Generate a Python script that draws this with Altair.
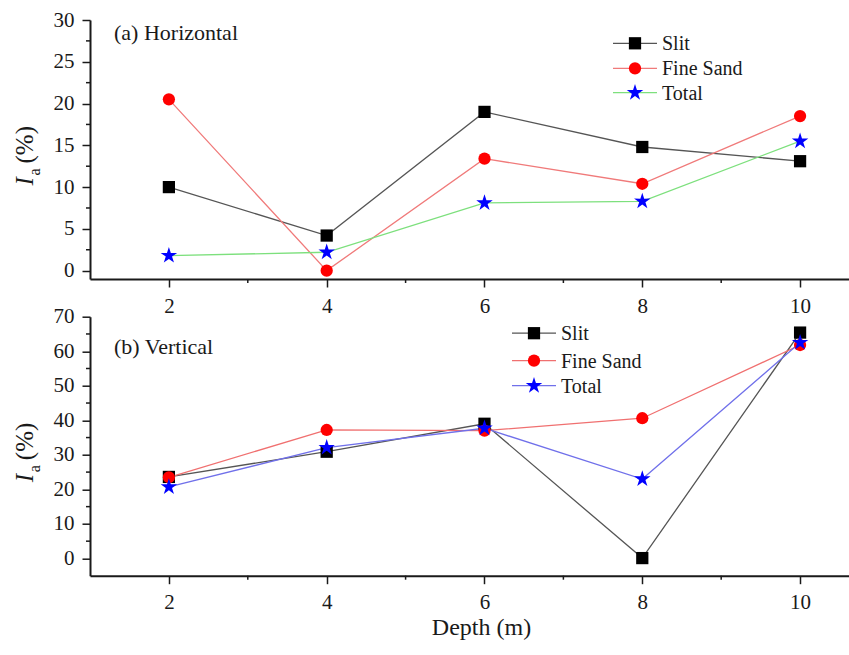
import altair as alt
import pandas as pd

depth = [2, 4, 6, 8, 10]
series = ["Slit", "Fine Sand", "Total"]

h_slit = [10.0, 4.2, 19.0, 14.8, 13.1]
h_sand = [20.5, 0.0, 13.4, 10.4, 18.5]
h_total = [1.8, 2.2, 8.1, 8.3, 15.5]

v_slit = [23.6, 30.9, 39.0, 0.1, 65.4]
v_sand = [23.5, 37.2, 37.0, 40.6, 61.8]
v_total = [20.7, 32.1, 37.7, 23.0, 62.5]

x_major = [2, 4, 6, 8, 10]
x_minor = [3, 5, 7, 9]
h_major = [0, 5, 10, 15, 20, 25, 30]
h_minor = [2.5, 7.5, 12.5, 17.5, 22.5, 27.5]
v_major = [0, 10, 20, 30, 40, 50, 60, 70]
v_minor = [5, 15, 25, 35, 45, 55, 65]

STAR = ("M0,-1L0.223,-0.307L0.951,-0.309L0.361,0.117L0.588,0.809L0,0.38"
        "L-0.588,0.809L-0.361,0.117L-0.951,-0.309L-0.223,-0.307Z")

W, H = 759, 259
FONT = "'Liberation Serif', 'Times New Roman', serif"
INK = "#1a1a1a"
marker_colors = ["#000000", "#ff0000", "#0000ff"]
marker_shapes = ["square", "circle", STAR]
marker_sizes = [150, 150, 300]


def long_df(vals):
    rows = []
    for s, v in zip(series, vals):
        for d, y in zip(depth, v):
            rows.append({"Depth": d, "Value": y, "Series": s})
    return pd.DataFrame(rows)


def panel(vals, line_colors, ydom, ymaj, ymin, label, leg_x, leg_rows, xtitle):
    df = long_df(vals)
    xscale = alt.Scale(domain=[1, 10.62], nice=False, zero=False)
    yscale = alt.Scale(domain=ydom, nice=False, zero=False)
    if xtitle:
        xaxis = alt.Axis(values=x_major, format="d", title=xtitle,
                         titleX=391, titleY=59, titleBaseline="alphabetic",
                         titleFont=FONT, titleFontSize=24, titleFontWeight="normal",
                         titleColor=INK)
    else:
        xaxis = alt.Axis(values=x_major, format="d", title=None)
    yaxis = alt.Axis(values=ymaj, format="d", title=None)

    X = alt.X("Depth:Q", scale=xscale, axis=xaxis)
    Y = alt.Y("Value:Q", scale=yscale, axis=yaxis)

    lines = alt.Chart(df).mark_line(strokeWidth=1.3).encode(
        x=X, y=Y,
        stroke=alt.Stroke("Series:N", scale=alt.Scale(domain=series, range=line_colors), legend=None),
        order=alt.Order("Depth:Q"),
    )
    pt_layers = []
    for i, s in enumerate(series):
        pt_layers.append(alt.Chart(df).transform_filter(alt.datum.Series == s).mark_point(
            filled=True, opacity=1, strokeWidth=0, shape=marker_shapes[i],
            size=marker_sizes[i], color=marker_colors[i]).encode(x=X, y=Y))

    xmin_df = pd.DataFrame({"Depth": x_minor})
    xminor = alt.Chart(xmin_df).mark_rule(color=INK, strokeWidth=1.5).encode(
        x=X, y=alt.value(H), y2=alt.value(H + 4))
    ymin_df = pd.DataFrame({"Value": ymin})
    yminor = alt.Chart(ymin_df).mark_rule(color=INK, strokeWidth=1.5).encode(
        y=Y, x=alt.value(0), x2=alt.value(-4))

    lab = alt.Chart(pd.DataFrame({"t": [label]})).mark_text(
        font=FONT, fontSize=22, align="left", baseline="middle", color=INK
    ).encode(x=alt.value(24), y=alt.value(leg_rows[3]), text="t:N")

    ytitle_I = alt.Chart(pd.DataFrame({"t": ["I"]})).mark_text(
        font=FONT, fontSize=25, fontStyle="italic", angle=270, align="left",
        baseline="alphabetic", color=INK
    ).encode(x=alt.value(-57), y=alt.value(H / 2 + 36), text="t:N")
    ytitle_a = alt.Chart(pd.DataFrame({"t": ["a"]})).mark_text(
        font=FONT, fontSize=16, angle=270, align="left",
        baseline="alphabetic", color=INK
    ).encode(x=alt.value(-50), y=alt.value(H / 2 + 26), text="t:N")
    ytitle_p = alt.Chart(pd.DataFrame({"t": ["(%)"]})).mark_text(
        font=FONT, fontSize=25, angle=270, align="left",
        baseline="alphabetic", color=INK
    ).encode(x=alt.value(-57), y=alt.value(H / 2 + 14), text="t:N")

    leg_layers = []
    for i, s in enumerate(series):
        yy = leg_rows[i]
        leg_layers.append(alt.Chart(pd.DataFrame({"s": [s]})).mark_rule(
            color=line_colors[i], strokeWidth=1.3).encode(
            x=alt.value(leg_x), x2=alt.value(leg_x + 44), y=alt.value(yy), y2=alt.value(yy)))
        leg_layers.append(alt.Chart(pd.DataFrame({"s": [s]})).mark_point(
            filled=True, opacity=1, strokeWidth=0, shape=marker_shapes[i],
            size=marker_sizes[i], color=marker_colors[i]).encode(
            x=alt.value(leg_x + 22), y=alt.value(yy)))
        leg_layers.append(alt.Chart(pd.DataFrame({"s": [s]})).mark_text(
            font=FONT, fontSize=20, align="left", baseline="middle", color=INK).encode(
            x=alt.value(leg_x + 49), y=alt.value(yy + 1), text="s:N"))

    anchor = alt.Chart(pd.DataFrame({"a": [0]})).mark_rule(opacity=0).encode(
        x=alt.value(-90), x2=alt.value(-89), y=alt.value(-20), y2=alt.value(-19))

    return alt.layer(lines, *pt_layers, xminor, yminor, lab, ytitle_I, ytitle_a, ytitle_p,
                     anchor, *leg_layers).properties(width=W, height=H)


top = panel([h_slit, h_sand, h_total], ["#555555", "#f07a7a", "#7de07d"],
            [-1, 30], h_major, h_minor, "(a) Horizontal", 523, [23.3, 48.3, 72.7, 13], None)
bottom = panel([v_slit, v_sand, v_total], ["#555555", "#f07070", "#7070ea"],
               [-5, 70], v_major, v_minor, "(b) Vertical", 422, [16.5, 44, 69, 30], "Depth (m)")

chart = alt.vconcat(top, bottom, spacing=37.7, bounds="flush").resolve_scale(
    stroke="independent"
).properties(
    padding=0, background="white"
).configure_view(stroke=None).configure_axis(
    labelFont=FONT, labelFontSize=21, labelColor=INK, tickSize=8, tickWidth=1.5,
    tickColor=INK, domainWidth=2, domainColor=INK, labelPadding=8, grid=False,
)

chart.save("out.html", embed_options={"renderer": "svg", "actions": False})
